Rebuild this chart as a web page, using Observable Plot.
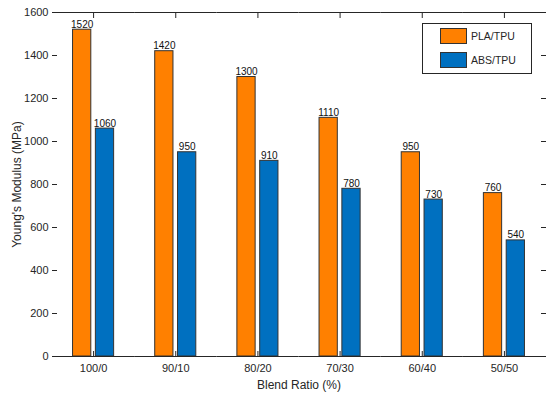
<!DOCTYPE html>
<html>
<head>
<meta charset="utf-8">
<script src="https://cdn.jsdelivr.net/npm/d3@7"></script>
<script src="https://cdn.jsdelivr.net/npm/@observablehq/plot@0.6"></script>
<style>
  body { margin: 0; background: #fff; }
  #wrap { position: relative; width: 550px; height: 397px; font-family: "Liberation Sans", Arial, sans-serif; }
  #legend { position: absolute; left: 422px; top: 23px; width: 110px; height: 51px; border: 1px solid #262626; background: #fff; box-sizing: border-box; }
  .item { position: absolute; left: 17px; display: flex; align-items: center; font-size: 10.5px; color: #262626; }
  .sw { width: 27px; height: 16px; border: 1px solid #333; box-sizing: border-box; margin-right: 4px; }
</style>
</head>
<body>
<div id="wrap"><div id="legend"></div></div>
<script>
const categories = ["100/0", "90/10", "80/20", "70/30", "60/40", "50/50"];
const plaTpu = [1520, 1420, 1300, 1110, 950, 760];
const absTpu = [1060, 950, 910, 780, 730, 540];
const seriesNames = ["PLA/TPU", "ABS/TPU"];
const seriesColors = ["#FF8000", "#0070C0"];
const yTicks = [0, 200, 400, 600, 800, 1000, 1200, 1400, 1600];

const data = categories.flatMap((c, i) => [
  {cat: c, series: seriesNames[0], value: plaTpu[i]},
  {cat: c, series: seriesNames[1], value: absTpu[i]}
]);

const axisColor = "#262626";

const chart = Plot.plot({
  width: 550,
  height: 397,
  marginLeft: 52,
  marginRight: 5,
  marginTop: 12,
  marginBottom: 41,
  style: {fontFamily: "'Liberation Sans', Arial, sans-serif", fontSize: "11px", color: axisColor, background: "#fff"},
  fx: {domain: categories, padding: 0, round: false, label: null},
  x: {domain: seriesNames, paddingInner: 0.2, paddingOuter: 0.9, round: false, axis: null},
  y: {domain: [0, 1600], ticks: yTicks, label: null},
  color: {domain: seriesNames, range: seriesColors},
  marks: [
    Plot.barY(data, {fx: "cat", x: "series", y: "value", fill: "series", stroke: "#333", strokeWidth: 1}),
    Plot.text(data, {fx: "cat", x: "series", y: "value", text: d => String(d.value), lineAnchor: "bottom", dy: -2, fontSize: 10, fill: "#111"}),
    Plot.ruleY([0, 1600], {stroke: axisColor}),
    Plot.axisY({anchor: "left", ticks: yTicks, tickSize: 0, tickPadding: 4, tickFormat: d3.format("d"), line: true, stroke: axisColor,
      label: "Young's Modulus (MPa)", labelAnchor: "center", labelOffset: 40, labelArrow: false, fontSize: 11}),
    Plot.axisY({anchor: "left", ticks: yTicks, tickSize: -5, tickFormat: () => "", label: null}),
    Plot.axisY({anchor: "right", ticks: yTicks, tickSize: -5, tickFormat: () => "", line: true, label: null}),
    Plot.axisFx({anchor: "bottom", tickSize: 0, tickPadding: 8, label: "Blend Ratio (%)", labelAnchor: "center", labelOffset: 32, labelArrow: false}),
    Plot.axisFx({anchor: "bottom", tickSize: -5, tickFormat: () => "", label: null}),
    Plot.axisFx({anchor: "top", tickSize: -5, tickFormat: () => "", label: null})
  ]
});

d3.select(chart).selectAll("[aria-label$='axis label'] text, [aria-label$='axis label']").style("font-size", "12px");

document.getElementById("wrap").prepend(chart);

const legend = document.getElementById("legend");
seriesNames.forEach((name, i) => {
  const item = document.createElement("div");
  item.className = "item";
  item.style.top = (4 + i * 24) + "px";
  const sw = document.createElement("div");
  sw.className = "sw";
  sw.style.background = seriesColors[i];
  const label = document.createElement("span");
  label.textContent = name;
  item.append(sw, label);
  legend.append(item);
});
</script>
</body>
</html>
